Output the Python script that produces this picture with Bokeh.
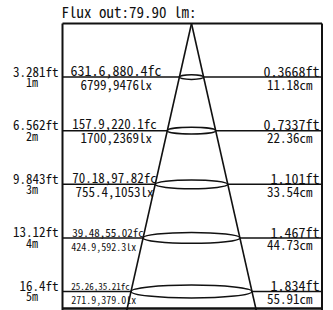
from bokeh.plotting import figure
from bokeh.models import Range1d
from bokeh.core.properties import value
from bokeh.embed import file_html
from bokeh.resources import INLINE

# ---------------- data ----------------
flux_title = "Flux out:79.90 lm:"
distances_m = [1, 2, 3, 4, 5]
dist_ft_labels = ["3.281ft", "6.562ft", "9.843ft", "13.12ft", "16.4ft"]
dist_m_labels = ["1m", "2m", "3m", "4m", "5m"]
fc_labels = ["631.6,880.4fc", "157.9,220.1fc", "70.18,97.82fc", "39.48,55.02fc", "25.26,35.21fc"]
lx_labels = ["6799,9476lx", "1700,2369lx", "755.4,1053lx", "424.9,592.3lx", "271.9,379.0lx"]
beam_ft_labels = ["0.3668ft", "0.7337ft", "1.101ft", "1.467ft", "1.834ft"]
beam_cm_labels = ["11.18cm", "22.36cm", "33.54cm", "44.73cm", "55.91cm"]
beam_cm = [11.18, 22.36, 33.54, 44.73, 55.91]

# ---------------- layout (pixels) ----------------
W, H = 333, 310
CX = 191.0          # cone axis, px from left
APEX = 23.0         # apex / box top, px from top
PX_PER_M = 53.6
PX_PER_CM = 2.164
BOX_L, BOX_R, BOX_B = 62.0, 321.5, 308.0
FONT = "Noto Sans Mono CJK SC, DejaVu Sans Mono"
BASE_FIX = 0.38     # baseline correction, in em

def xu(px):
    return (px - CX) / PX_PER_CM

def yu(px):
    return (px - APEX) / PX_PER_M

def label(x, y, text, size, align, dx, base_dy):
    p.text(x=x, y=y, text=text, x_offset=dx, y_offset=base_dy - BASE_FIX * size,
           text_font=value(FONT), text_font_size=f"{size}px", text_color=ink,
           text_align=align, text_baseline="alphabetic")

p = figure(width=W, height=H, output_backend="svg", toolbar_location=None,
           x_axis_type=None, y_axis_type=None, min_border=0,
           x_range=Range1d(xu(0), xu(W)), y_range=Range1d(yu(H), yu(0)))
p.outline_line_color = None
p.grid.visible = False
p.background_fill_color = "white"
p.border_fill_color = "white"

ink = "#111111"
top_d, bot_d = yu(APEX), yu(BOX_B)
bl, br = xu(BOX_L), xu(BOX_R)

# box
p.line([bl, bl], [top_d, yu(H + 2)], line_color=ink, line_width=2)
p.line([br, br], [top_d, yu(H + 2)], line_color=ink, line_width=2)
p.line([bl, br], [top_d, top_d], line_color=ink, line_width=2)
p.line([bl, br], [bot_d, bot_d], line_color=ink, line_width=2.5)

# cone
slope = beam_cm[-1] / 2 / distances_m[-1]
p.line([0, -slope * yu(H + 2)], [0, yu(H + 2)], line_color=ink, line_width=1.6)
p.line([0, slope * yu(H + 2)], [0, yu(H + 2)], line_color=ink, line_width=1.6)

# row lines split at the cone, and ellipses
for d, w in zip(distances_m, beam_cm):
    p.line([bl, -w / 2], [d, d], line_color=ink, line_width=1.5)
    p.line([w / 2, br], [d, d], line_color=ink, line_width=1.5)
ell_h = [(2.5 + 2.1 * d) / PX_PER_M for d in distances_m]
p.ellipse(x=[0] * len(distances_m), y=distances_m, width=beam_cm, height=ell_h,
          fill_color=None, line_color=ink, line_width=1.5)

# title
label([bl], [top_d], [flux_title], 15, "left", -1, -6)

# left labels
label([bl] * 5, distances_m, dist_ft_labels, 13, "right", -4, -1)
label([xu(31.5)] * 5, distances_m, dist_m_labels, 12, "center", 0, 9)

# middle labels
fc_x = [70, 71.7, 71.7, 71.7, 70.7]
fc_size = [14, 13, 13, 11, 9]
lx_x = [80, 80, 75, 70.7, 70.7]
lx_size = [13, 13, 13, 10, 10]
for i, d in enumerate(distances_m):
    label([xu(fc_x[i])], [d], [fc_labels[i]], fc_size[i], "left", 0, -2)
    label([xu(lx_x[i])], [d], [lx_labels[i]], lx_size[i], "left", 0, 12)

# right labels
label([br] * 5, distances_m, beam_ft_labels, 14, "right", -2.5, -1)
label([br] * 5, distances_m, beam_cm_labels, 13, "right", -9.5, 12)

open("out.html", "w").write(file_html(p, INLINE))
